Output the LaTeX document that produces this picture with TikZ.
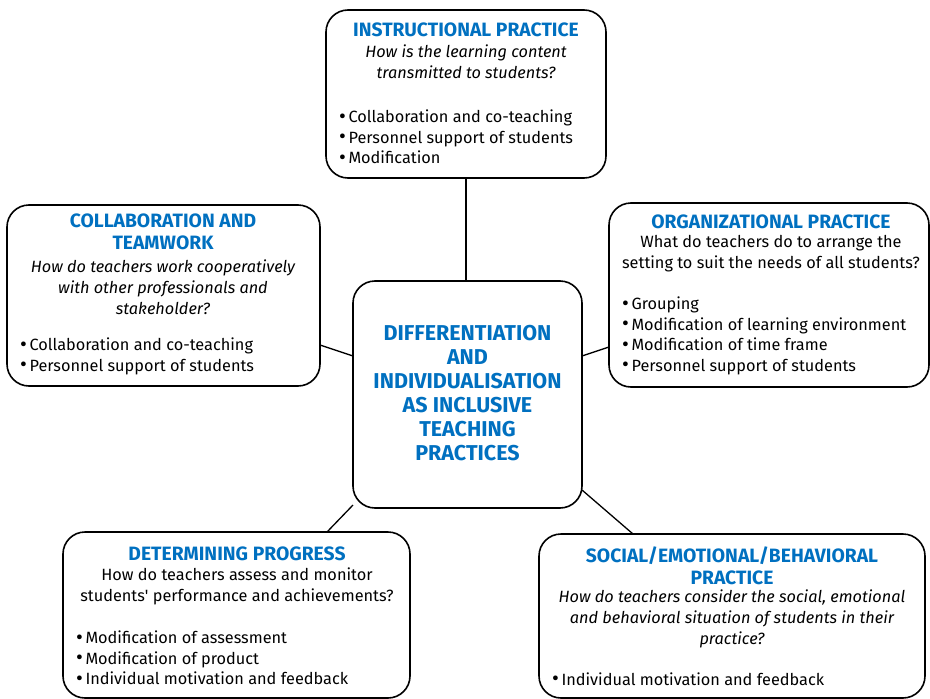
\documentclass[tikz,border=0pt]{standalone}
\usepackage{fontspec}
\setmainfont{Fira Sans}
\definecolor{headblue}{RGB}{0,112,192}
\newcommand{\bu}{\raisebox{-0.5pt}{\fontsize{21}{21}\selectfont\textbullet}\hspace{2.5pt}}
\begin{document}
\begin{tikzpicture}[x=1pt,y=-1pt,
  box/.style={draw=black,line width=1.6pt,rounded corners=22pt},
  link/.style={draw=black,line width=1.3pt},
  head/.style={font=\fontsize{19.3}{22}\selectfont\bfseries,text=headblue,align=center,inner sep=0pt},
  ques/.style={font=\fontsize{16.3}{21}\selectfont,align=center,inner sep=0pt},
  quesit/.style={font=\fontsize{16.3}{21}\selectfont\itshape,align=center,inner sep=0pt},
  bul/.style={font=\fontsize{16.3}{20.5}\selectfont,align=left,inner sep=0pt,anchor=west},
  centre/.style={font=\fontsize{21.5}{24}\selectfont\bfseries,text=headblue,align=center,inner sep=0pt}]
\useasboundingbox (0,0) rectangle (930,699);
\clip (0,0) rectangle (930,699);
% boxes
\draw[box] (326,10) rectangle (606,178);
\draw[box] (7,205) rectangle (320,386);
\draw[box] (609,203) rectangle (929,387);
\draw[box] (353,281) rectangle (582,508);
\draw[box] (63,532) rectangle (410,698);
\draw[box] (539,534) rectangle (925,698);
% named anchor coordinates
\coordinate (t1) at (466,178); \coordinate (t2) at (466,281);
\coordinate (l1) at (320,345); \coordinate (l2) at (353,356);
\coordinate (r1) at (582,356); \coordinate (r2) at (609,347);
\coordinate (bl1) at (353,505); \coordinate (bl2) at (327,532);
\coordinate (br1) at (582,490); \coordinate (br2) at (633,534);
\draw[link] (t1) -- (t2);
\draw[link] (l1) -- (l2);
\draw[link] (r1) -- (r2);
\draw[link] (bl1) -- (bl2);
\draw[link] (br1) -- (br2);
% centre
\node[centre] (c) at (467.5,393) {DIFFERENTIATION\\AND\\INDIVIDUALISATION\\AS INCLUSIVE\\TEACHING\\PRACTICES};
% top
\node[head] (th) at (466,30) {INSTRUCTIONAL PRACTICE};
\node[quesit] (tq) at (466,62) {How is the learning content\\transmitted to students?};
\node[bul] (tb) at (339,137) {\bu Collaboration and co-teaching\\\bu Personnel support of students\\\bu Modification};
% left
\node[head] (lh) at (163,232) {COLLABORATION AND\\TEAMWORK};
\node[quesit] (lq) at (163,287) {How do teachers work cooperatively\\with other professionals and\\stakeholder?};
\node[bul] (lb) at (20,356.5) {\bu Collaboration and co-teaching\\\bu Personnel support of students};
% right
\node[head] (rh) at (771,222) {ORGANIZATIONAL PRACTICE};
\node[ques] (rq) at (771,254) {What do teachers do to arrange the\\setting to suit the needs of all students?};
\node[bul] (rb) at (622,336) {\bu Grouping\\\bu Modification of learning environment\\\bu Modification of time frame\\\bu Personnel support of students};
% bottom left
\node[head] (blh) at (237,554) {DETERMINING PROGRESS};
\node[ques] (blq) at (237,586.5) {How do teachers assess and monitor\\students\textquotesingle\ performance and achievements?};
\node[bul] (blb) at (76,658) {\bu Modification of assessment\\\bu Modification of product\\\bu Individual motivation and feedback};
% bottom right
\node[head] (brh) at (732,565.5) {SOCIAL/EMOTIONAL/BEHAVIORAL\\PRACTICE};
\node[quesit] (brq) at (732,619) {How do teachers consider the social, emotional\\and behavioral situation of students in their\\practice?};
\node[bul] (brb) at (552,679) {\bu Individual motivation and feedback};
\end{tikzpicture}
\end{document}
